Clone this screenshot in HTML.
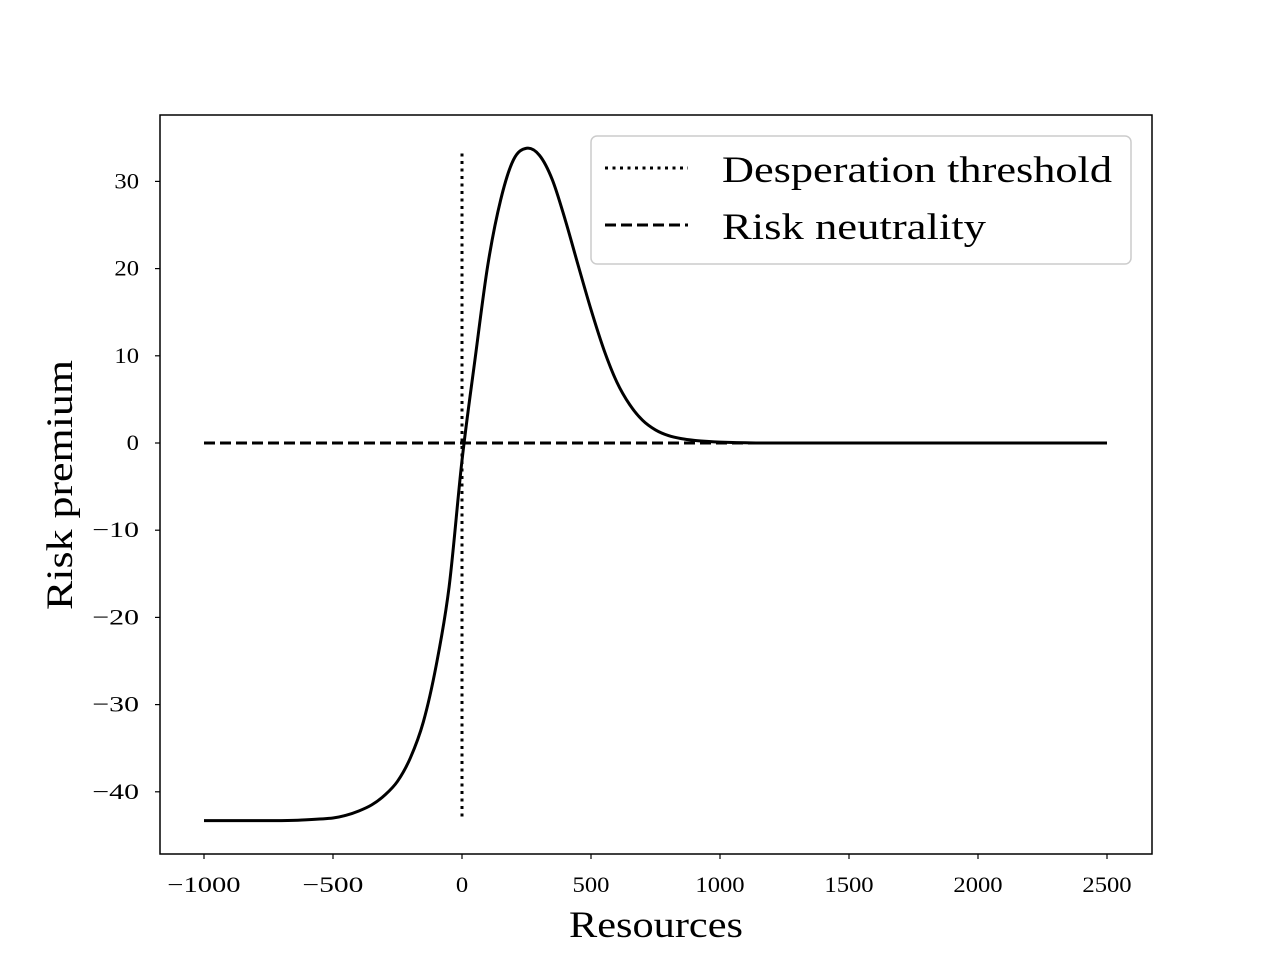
<!DOCTYPE html>
<html><head><meta charset="utf-8"><style>
body{margin:0;background:#fff}
svg text{font-family:"Liberation Serif",serif;fill:#000}
</style></head><body>
<svg width="1280" height="960" xmlns="http://www.w3.org/2000/svg">
<g id="plot"></g>
</svg>
<script>
const xVals=[-1000,-700,-600,-500,-450,-400,-350,-300,-250,-200,-150,-100,-50,0,50,100,150,200,250,300,350,400,450,500,550,600,650,700,750,800,850,900,950,1000,1100,1200,1500,2000,2500];
const yVals=[-43.3,-43.3,-43.2,-43.0,-42.7,-42.2,-41.5,-40.4,-38.8,-36.1,-32.0,-25.5,-16.5,-2.0,9.5,20.4,27.9,32.5,33.8,33.0,30.2,25.6,20.4,15.3,10.7,7.0,4.4,2.6,1.5,0.85,0.5,0.3,0.18,0.1,0.03,0,0,0,0];
const xTicks=[-1000,-500,0,500,1000,1500,2000,2500];
const yTicks=[-40,-30,-20,-10,0,10,20,30];
const threshold=0, neutral=0, xMin=-1000, xMax=2500;
const sx=v=>462+v*0.258;
const sy=v=>443-v*8.72;
const NS="http://www.w3.org/2000/svg";
const g=document.getElementById('plot');
function mk(t,a,p){const e=document.createElementNS(NS,t);for(const k in a)e.setAttribute(k,a[k]);(p||g).appendChild(e);return e;}
function lbl(t,m){const s=String(Math.abs(t));return {txt:(t<0?'\u2212':'')+s,len:s.length*12.3+(t<0?m:0)};}
const fr=mk('rect',{x:160,y:115,width:992,height:739,fill:'none',stroke:'#000','stroke-width':1.5});


xTicks.forEach(t=>{
 const l=mk('line',{x1:sx(t),x2:sx(t),y1:854,y2:859,stroke:'#000','stroke-width':1.2});
 
 
 const L=lbl(t,24);
 const tx=mk('text',{x:sx(t),y:892,'text-anchor':'middle','font-size':22,textLength:L.len,lengthAdjust:'spacingAndGlyphs'});
 tx.textContent=L.txt;
 
 
});
yTicks.forEach(t=>{
 const l=mk('line',{x1:155,x2:160,y1:sy(t),y2:sy(t),stroke:'#000','stroke-width':1.2});
 
 
 const L=lbl(t,22);
 const tx=mk('text',{x:139,y:sy(t)+7,'text-anchor':'end','font-size':22,textLength:L.len,lengthAdjust:'spacingAndGlyphs'});
 tx.textContent=L.txt;
 
 
});
const xl=mk('text',{x:656,y:937,'text-anchor':'middle','font-size':37,textLength:174,lengthAdjust:'spacingAndGlyphs'});
xl.textContent='Resources';


const yl=mk('text',{x:0,y:0,'text-anchor':'middle','font-size':37,textLength:250,lengthAdjust:'spacingAndGlyphs',transform:'translate(72,485) rotate(-90)'});
yl.textContent='Risk premium';


const th=mk('line',{x1:sx(threshold),x2:sx(threshold),y1:sy(33.2),y2:sy(-43.3),stroke:'#000','stroke-width':3,'stroke-dasharray':'3,4.5'});


const nl=mk('line',{x1:sx(xMin),x2:sx(xMax),y1:sy(neutral),y2:sy(neutral),stroke:'#000','stroke-width':3,'stroke-dasharray':'11,5'});


let d='';
for(let i=0;i<xVals.length;i++){
 const x=sx(xVals[i]),y=sy(yVals[i]);
 if(i===0)d+='M'+x+','+y;
 else{const x0=sx(xVals[i-1]),y0=sy(yVals[i-1]);
  const xp=i>1?sx(xVals[i-2]):x0,yp=i>1?sy(yVals[i-2]):y0;
  const xn=i<xVals.length-1?sx(xVals[i+1]):x,yn=i<xVals.length-1?sy(yVals[i+1]):y;
  const c1x=x0+(x-xp)/6,c1y=y0+(y-yp)/6,c2x=x-(xn-x0)/6,c2y=y-(yn-y0)/6;
  d+=`C${c1x},${c1y} ${c2x},${c2y} ${x},${y}`;}
}
const cv=mk('path',{d:d,fill:'none',stroke:'#000','stroke-width':3,'stroke-linejoin':'round'});


const lg=mk('g',{});


mk('rect',{x:591,y:136,width:540,height:128,rx:6,fill:'#fff','fill-opacity':0.8,stroke:'#ccc','stroke-width':1.5},lg);
const l1=mk('line',{x1:605,x2:688,y1:168,y2:168,stroke:'#000','stroke-width':3,'stroke-dasharray':'3,4.5'},lg);


const t1=mk('text',{x:722,y:182,'font-size':37,textLength:390,lengthAdjust:'spacingAndGlyphs'},lg);
t1.textContent='Desperation threshold';


const l2=mk('line',{x1:605,x2:688,y1:225,y2:225,stroke:'#000','stroke-width':3,'stroke-dasharray':'11,5'},lg);


const t2=mk('text',{x:722,y:239,'font-size':37,textLength:264,lengthAdjust:'spacingAndGlyphs'},lg);
t2.textContent='Risk neutrality';


</script>
</body></html>
